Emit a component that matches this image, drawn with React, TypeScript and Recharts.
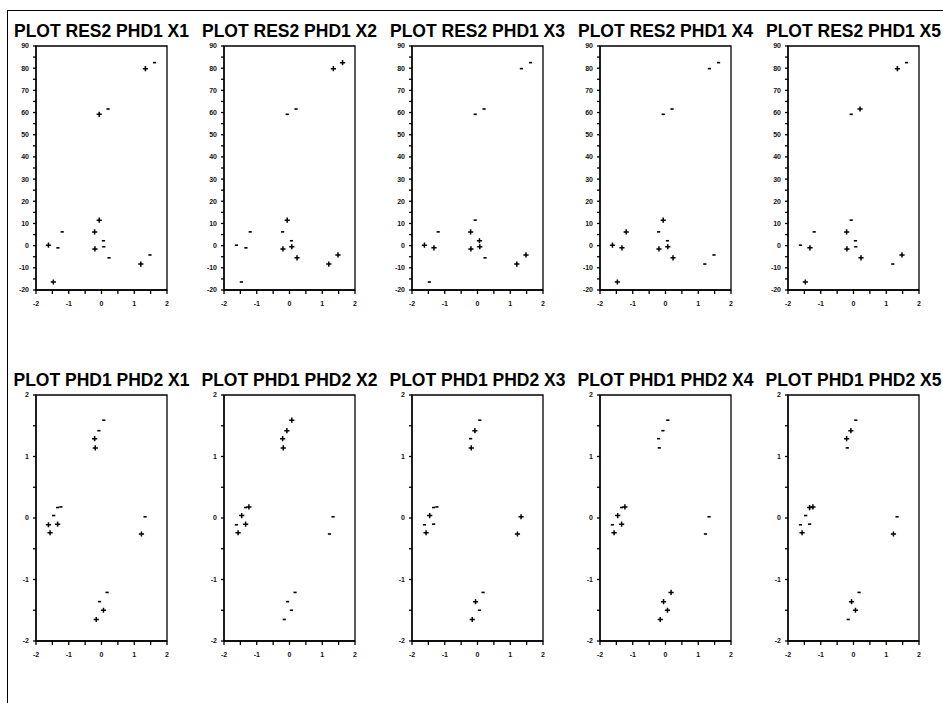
import { ScatterChart, Scatter, XAxis, YAxis, ReferenceArea } from "recharts";

// top row: RES2 (y) against PHD1 (x), same 16 observations in every panel
const phd1Top = [-1.62, -1.47, -1.33, -1.2, -0.21, -0.2, -0.07, -0.07, 0.06, 0.07, 0.2, 0.23, 1.2, 1.48, 1.34, 1.62];
const res2Top = [0.2, -16.4, -1.0, 6.2, 6.2, -1.5, 11.5, 59.2, 2.2, -0.5, 61.6, -5.5, -8.3, -4.2, 79.8, 82.5];

// bottom row: PHD1 (y) against PHD2 (x)
const phd2Bottom = [0.07, -0.08, -0.21, -0.19, -1.34, -1.24, -1.46, -1.62, -1.34, -1.57, 1.33, 1.22, 0.17, -0.06, 0.06, -0.16];
const phd1Bottom = [1.59, 1.42, 1.29, 1.14, 0.17, 0.18, 0.04, -0.11, -0.1, -0.24, 0.02, -0.26, -1.21, -1.36, -1.5, -1.65];

const xNames = ["X1", "X2", "X3", "X4", "X5"];

// sign of each X variable for every observation
const topSigns = ["++--++++----+-+-", "-----++--+-+++++", "+-+-++--++--++--", "++++-++--+-+----", "-++-++----++-++-"];
const bottomSigns = ["--++---+++-+--++", "++++-++-++------", "-+-+--+--+++-+-+", "-----++-++--++++", "-++-++---+-+-++-"];

const xTicks = [-2, -1.5, -1, -0.5, 0, 0.5, 1, 1.5, 2];
const topYTicks = [-20, -15, -10, -5, 0, 5, 10, 15, 20, 25, 30, 35, 40, 45, 50, 55, 60, 65, 70, 75, 80, 85, 90];
const bottomYTicks = [-2, -1.5, -1, -0.5, 0, 0.5, 1, 1.5, 2];

const FONT = "'Liberation Sans', Arial, Helvetica, sans-serif";
const PLOT_W = 131;
const Y_AXIS_W = 30;

const PlusMark = (props: any) => {
  const { cx, cy } = props;
  return (
    <path
      d={`M${cx - 2.6},${cy}H${cx + 2.6}M${cx},${cy - 2.6}V${cy + 2.6}`}
      stroke="#000"
      strokeWidth={1.5}
    />
  );
};

const MinusMark = (props: any) => {
  const { cx, cy } = props;
  return <rect x={cx - 1.6} y={cy - 0.8} width={3.2} height={1.6} fill="#000" />;
};

function Panel({
  title,
  xs,
  ys,
  signs,
  plotLeft,
  plotTop,
  plotH,
  yDomain,
  yTicks,
  labelEvery,
}: {
  title: string;
  xs: number[];
  ys: number[];
  signs: string;
  plotLeft: number;
  plotTop: number;
  plotH: number;
  yDomain: [number, number];
  yTicks: number[];
  labelEvery: number;
}) {
  const pts = xs.map((x, i) => ({ x, y: ys[i], s: signs[i] }));
  const plus = pts.filter((p) => p.s === "+");
  const minus = pts.filter((p) => p.s === "-");
  const tickStyle = { fontSize: 7, fontWeight: 700, fill: "#111", stroke: "none", fontFamily: FONT };
  const fmtX = (v: number) => (Number.isInteger(v) ? String(v) : "");
  const fmtY = (v: number) => (Math.abs(v % labelEvery) < 1e-9 ? String(v) : "");

  return (
    <>
      <div
        style={{
          position: "absolute",
          left: plotLeft - 40,
          top: plotTop - 25,
          width: PLOT_W + 80,
          textAlign: "center",
          fontFamily: FONT,
          fontWeight: 700,
          fontSize: 17.5,
          lineHeight: "20px",
          whiteSpace: "nowrap",
          color: "#000",
        }}
      >
        {title}
      </div>
      <div style={{ position: "absolute", left: plotLeft - Y_AXIS_W, top: plotTop - 5 }}>
        <ScatterChart
          width={Y_AXIS_W + PLOT_W + 6}
          height={plotH + 25}
          margin={{ top: 5, right: 6, bottom: 0, left: 0 }}
        >
          <XAxis
            type="number"
            dataKey="x"
            domain={[-2, 2]}
            ticks={xTicks}
            interval={0}
            tickFormatter={fmtX}
            height={20}
            tickSize={4}
            tickMargin={7}
            tick={tickStyle}
            axisLine={{ stroke: "#000", strokeWidth: 1.3 }}
            tickLine={{ stroke: "#000", strokeWidth: 1.3 }}
          />
          <YAxis
            type="number"
            dataKey="y"
            domain={yDomain}
            ticks={yTicks}
            interval={0}
            tickFormatter={fmtY}
            width={Y_AXIS_W}
            tickSize={3}
            tickMargin={4}
            tick={tickStyle}
            axisLine={{ stroke: "#000", strokeWidth: 1.3 }}
            tickLine={{ stroke: "#000", strokeWidth: 1.3 }}
          />
          <ReferenceArea
            x1={-2}
            x2={2}
            y1={yDomain[0]}
            y2={yDomain[1]}
            fill="none"
            fillOpacity={0}
            stroke="#000"
            strokeWidth={1.3}
            ifOverflow="visible"
          />
          <Scatter data={plus} shape={PlusMark} isAnimationActive={false} />
          <Scatter data={minus} shape={MinusMark} isAnimationActive={false} />
        </ScatterChart>
      </div>
    </>
  );
}

export default function App() {
  return (
    <div
      style={{
        position: "absolute",
        left: 0,
        top: 0,
        width: 943,
        height: 703,
        background: "#fff",
        overflow: "hidden",
      }}
    >
      <div
        style={{
          position: "absolute",
          left: 7,
          top: 10,
          width: 940,
          height: 700,
          borderLeft: "1px solid #000",
          borderTop: "1px solid #000",
        }}
      />
      {xNames.map((name, i) => (
        <Panel
          key={"top" + name}
          title={`PLOT RES2 PHD1 ${name}`}
          xs={phd1Top}
          ys={res2Top}
          signs={topSigns[i]}
          plotLeft={36 + i * 188}
          plotTop={46}
          plotH={244}
          yDomain={[-20, 90]}
          yTicks={topYTicks}
          labelEvery={10}
        />
      ))}
      {xNames.map((name, i) => (
        <Panel
          key={"bottom" + name}
          title={`PLOT PHD1 PHD2 ${name}`}
          xs={phd2Bottom}
          ys={phd1Bottom}
          signs={bottomSigns[i]}
          plotLeft={36 + i * 188}
          plotTop={395}
          plotH={246}
          yDomain={[-2, 2]}
          yTicks={bottomYTicks}
          labelEvery={1}
        />
      ))}
    </div>
  );
}
